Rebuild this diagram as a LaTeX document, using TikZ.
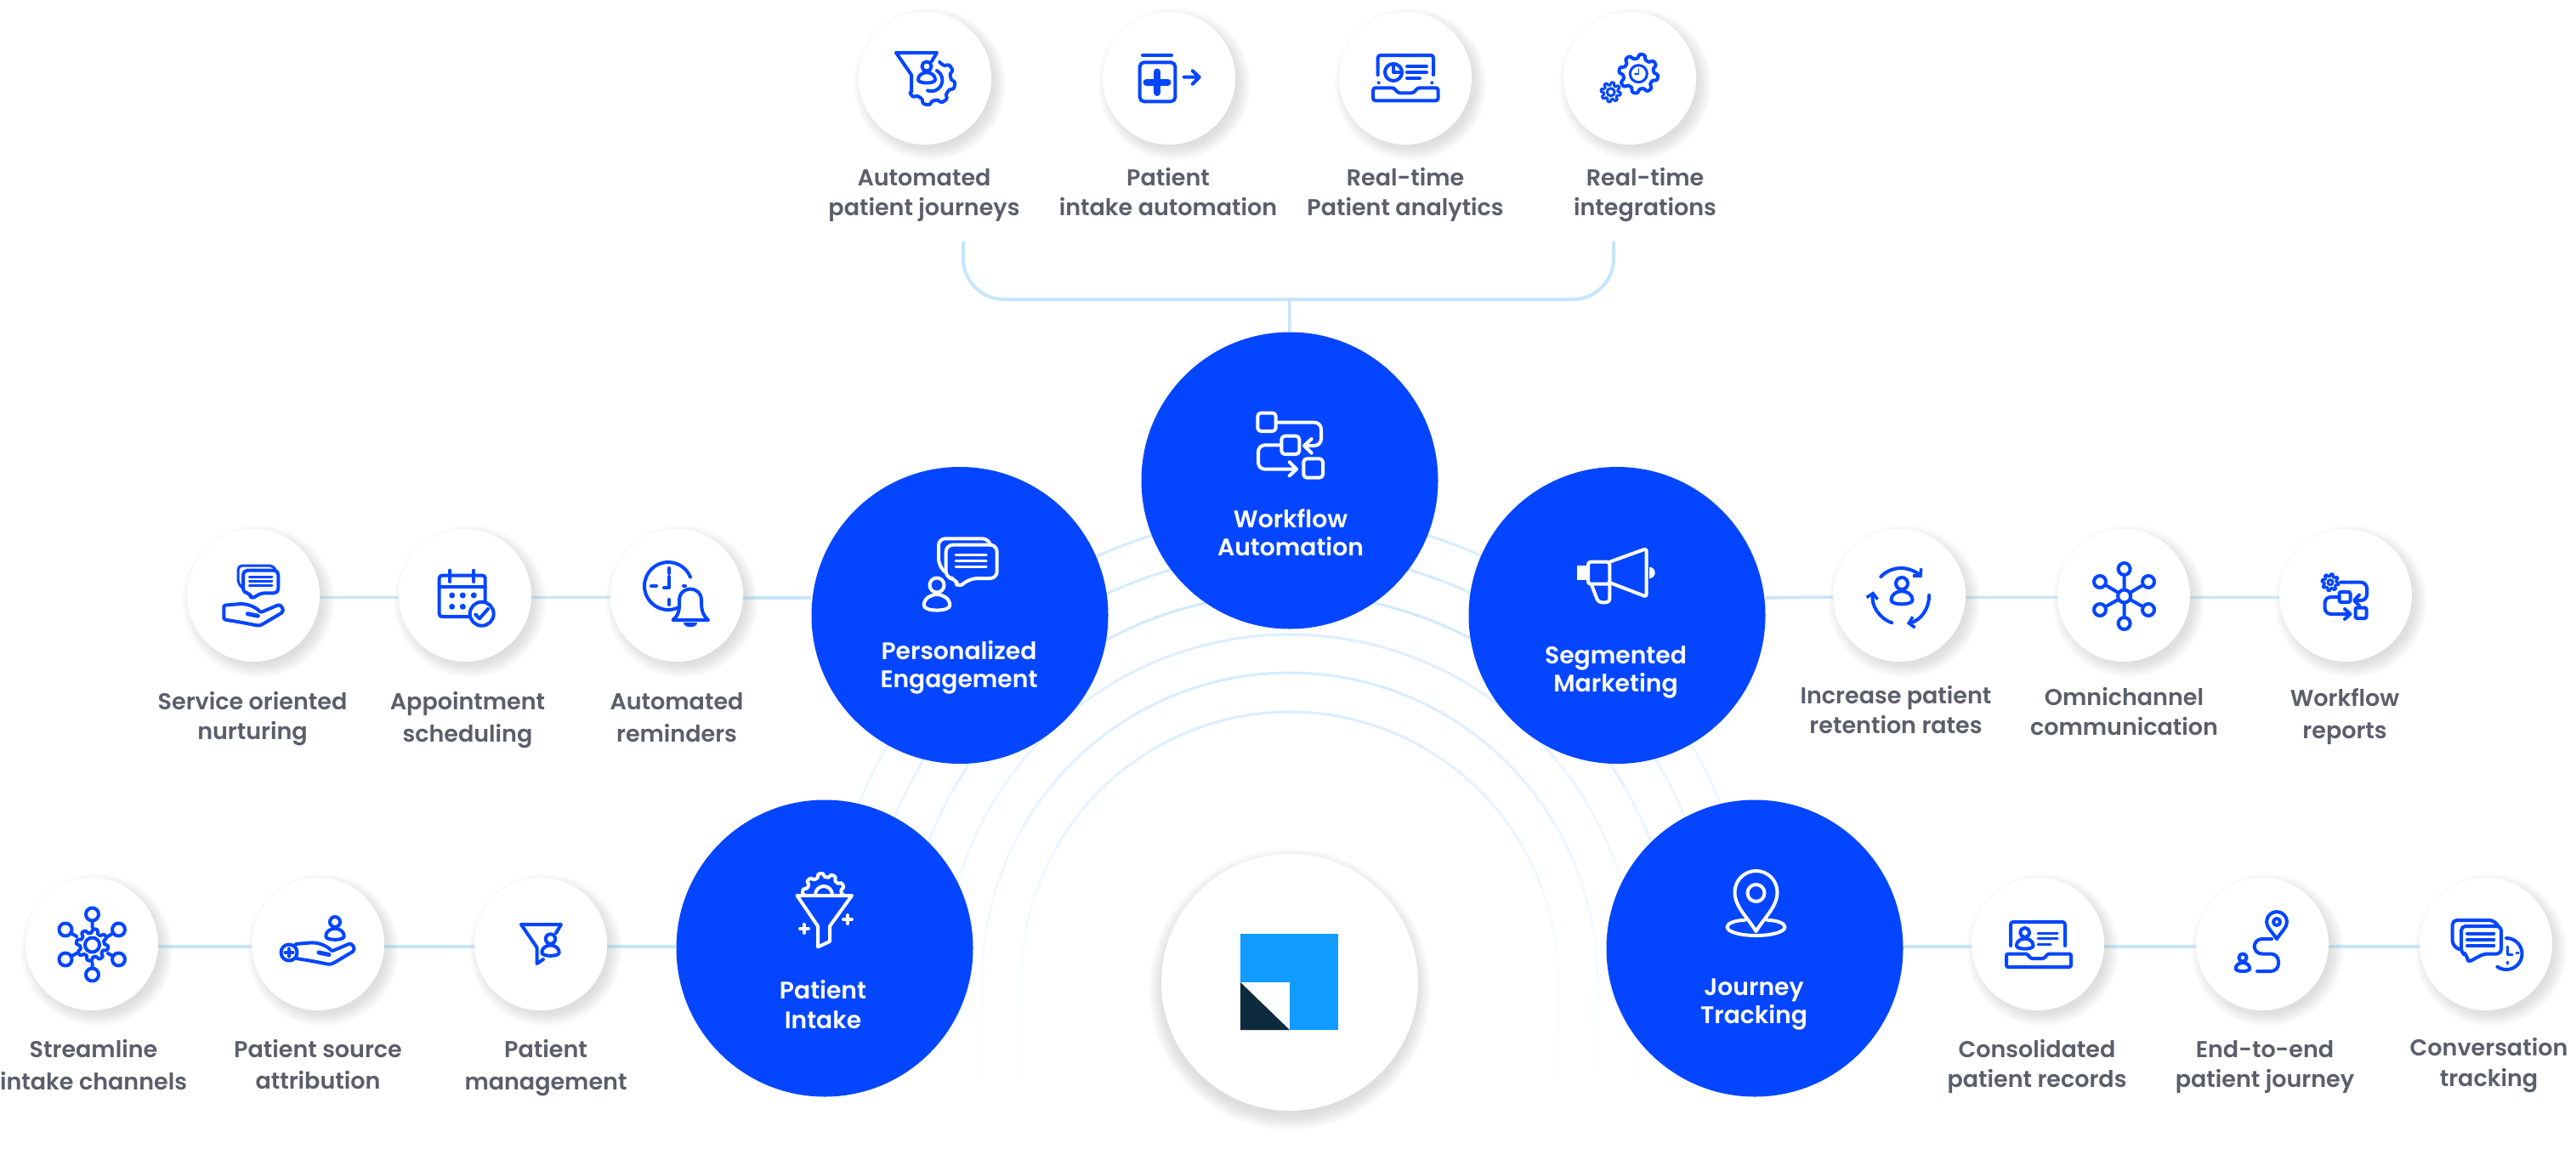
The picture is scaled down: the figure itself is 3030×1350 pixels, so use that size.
\documentclass[tikz,border=0pt]{standalone}
\usepackage{fontspec}
\usetikzlibrary{backgrounds,arrows.meta,calc}
\newfontfamily\popm{Poppins SemiBold}
\definecolor{iconblue}{HTML}{0446FF}
\definecolor{mainblue}{HTML}{0446FF}
\definecolor{linkblue}{HTML}{C6E5FD}
\definecolor{arcblue}{HTML}{CDE8FF}
\definecolor{graytext}{HTML}{5A5F6A}
\definecolor{logoblue}{HTML}{0F9BFF}
\definecolor{logodark}{HTML}{0E2A3F}
\tikzset{
  x=1pt,y=-1pt,
  subnode/.style={circle,fill=white,inner sep=0pt,minimum size=156pt},
  mainnode/.style={circle,fill=mainblue,inner sep=0pt,minimum size=349pt},
  logonode/.style={circle,fill=white,inner sep=0pt,minimum size=302pt},
  sublabel/.style={align=center,inner sep=0pt,text=graytext,font=\popm\fontsize{27}{35}\selectfont},
  mainlabel/.style={align=center,inner sep=0pt,text=white,font=\popm\fontsize{28.2}{33}\selectfont},
  link/.style={draw=linkblue,line width=3.5pt},
  ic/.style={draw=iconblue,line width=4pt,line cap=round,line join=round},
  icthin/.style={draw=iconblue,line width=3pt,line cap=round,line join=round},
  ichair/.style={draw=iconblue,line width=1.6pt,line cap=round,line join=round},
  icw/.style={draw=white,line width=4pt,line cap=round,line join=round},
  iwthin/.style={draw=white,line width=3pt,line cap=round,line join=round},
  barb/.style={-{Straight Barb[length=6pt,width=13pt,line width=3.6pt]}},
}
% person: head centre (x,y), head radius s
\newcommand\Ipers[4]{\begin{scope}[shift={(#2,#3)},scale=#4]
  \draw[#1] (0,0) circle[radius=1];
  \draw[#1] (-1.8,2.8) .. controls (-1.8,1.8) and (-.8,1.3) .. (0,1.3) .. controls (.8,1.3) and (1.8,1.8) .. (1.8,2.8) .. controls (1.8,3.7) and (-1.8,3.7) .. cycle;
\end{scope}}
% gear: style, x, y, R, teeth, amplitude, from, to
\newcommand\Igear[8]{\draw[#1,variable=\t,domain=#7:#8,samples=121]
  plot ({#2+(#4+#6*tanh(2.2*sin(#5*\t)))*cos(\t)},{#3+(#4+#6*tanh(2.2*sin(#5*\t)))*sin(\t)});}
% open hand: local origin at upper wrist
\newcommand\Ihand[3]{\begin{scope}[shift={(#1,#2)},scale=#3]
  \draw[ic,rounded corners=1.5pt] (0,0) -- (0,16.7) -- (20,20) -- (38,23.5) .. controls (41,24) and (43,23.5) .. (46,22) -- (67,9.5) .. controls (72,6) and (67,-2) .. (62,.5) -- (43,8.5) .. controls (40,4) and (30,-2) .. (18,-1.5) -- cycle;
  \draw[iconblue,line width=5pt,line cap=round] (28,10) -- (40,12.5);
\end{scope}}
\newcommand\Ilines[5]{\draw[#1] (#2,#4) -- (#3,#4) foreach \yy in {#5} {(#2,\yy) -- (#3,\yy)};}
\newcommand\Ilab[6]{\node[sublabel] (#1) at (#2,#3) {\strut #4\\[#6pt]\strut #5};}
\newcommand\Imain[5]{\node[mainlabel] (#1) at (#2,#3) {\strut #4\\\strut #5};}
\newcommand\Ishadow[5]{\foreach \k in {0,...,#5} {\fill[#4!70!white,opacity=.014] (#1,#2) circle[radius=#3+#5-\k];}}
\begin{document}
\begin{tikzpicture}
\useasboundingbox (0,0) rectangle (3030,1350);
% ---- nodes
\node[subnode] (t1) at (1088,92) {};
\node[subnode] (t2) at (1375,92) {};
\node[subnode] (t3) at (1653,92) {};
\node[subnode] (t4) at (1917,92) {};
\node[subnode] (l1) at (298,700) {};
\node[subnode] (l2) at (547,700) {};
\node[subnode] (l3) at (796,700) {};
\node[subnode] (b1) at (108,1110) {};
\node[subnode] (b2) at (374,1110) {};
\node[subnode] (b3) at (636,1110) {};
\node[subnode] (r1) at (2234,700) {};
\node[subnode] (r2) at (2498,700) {};
\node[subnode] (r3) at (2759,700) {};
\node[subnode] (q1) at (2397,1110) {};
\node[subnode] (q2) at (2661,1110) {};
\node[subnode] (q3) at (2924,1110) {};
\node[mainnode] (wf) at (1517,565) {};
\node[mainnode] (pe) at (1129,723.5) {};
\node[mainnode] (sm) at (1902,723.5) {};
\node[mainnode] (pi) at (970,1115) {};
\node[mainnode] (jt) at (2064,1115) {};
\node[logonode] (logo) at (1517,1155) {};
\coordinate (brl) at (1133,284);
\coordinate (brr) at (1898,284);
\coordinate (brm) at (1516.5,352);
% ---- background: page, arcs, connectors, shadows
\begin{pgfonlayer}{background}
\fill[white] (0,0) rectangle (3030,1350);
\foreach \r/\f in {316/.75,362/.85,407/.7,455/1,503/.9,548/.9} {
  \foreach \a in {180,190,...,350} {
    \pgfmathsetmacro\v{\f*min(100,15+85*pow(abs(sin(\a+5)),1.3))}
    \draw[arcblue!\v!white,line width=3pt] (1517,1153)+({\a-.5}:\r) arc[start angle=\a-.5,end angle=\a+10.5,radius=\r];
  }
  \foreach \i/\v in {0/13,1/9,2/5,3/2} {
    \draw[arcblue!\v!white,line width=3pt] (1517-\r,1153+\i*29) -- (1517-\r,1153+29+\i*29);
    \draw[arcblue!\v!white,line width=3pt] (1517+\r,1153+\i*29) -- (1517+\r,1153+29+\i*29);
  }
}
\draw[link,line width=4pt,rounded corners=48pt] (brl) -- (brl|-brm) -- (brr|-brm) -- (brr);
\draw[link] (wf.north) -- (brm);
\foreach \a/\b in {l1/l2,l2/l3,r1/r2,r2/r3} \draw[link] ([yshift=-2.5pt]\a.east) -- ([yshift=-2.5pt]\b.west);
\foreach \a/\b in {b1/b2,b2/b3,q1/q2,q2/q3} \draw[link] ([yshift=-3pt]\a.east) -- ([yshift=-3pt]\b.west);
\draw[link] ([yshift=-3pt]l3.east) -- (pe.west |- 0,703);
\draw[link] ([yshift=-3pt]b3.east) -- (pi.west |- 0,1113);
\draw[link] (sm.east |- 0,703) -- ([yshift=-2pt]r1.west);
\draw[link] (jt.east |- 0,1113) -- ([yshift=-3pt]q1.west);
\foreach \x/\y in {1088/92,1375/92,1653/92,1917/92,298/700,547/700,796/700,108/1110,374/1110,636/1110,2234/700,2498/700,2759/700,2397/1110,2661/1110,2924/1110} {
  \Ishadow{\x+6}{\y+7}{66}{gray}{24}
}
\Ishadow{1517}{1163}{138}{gray}{28}
\end{pgfonlayer}
% ---- logo
\fill[logoblue] (1459,1098) rectangle (1574,1211);
\fill[white] (1459,1155) rectangle (1517,1211);
\fill[logodark] (1459,1155) -- (1517,1211) -- (1459,1211) -- cycle;
% ---- labels
\Ilab{lt1}{1087}{229}{Automated}{patient journeys}{0}
\Ilab{lt2}{1374}{229}{Patient}{intake automation}{0}
\Ilab{lt3}{1653}{229}{Real-time}{Patient analytics}{0}
\Ilab{lt4}{1935}{229}{Real-time}{integrations}{0}
\Ilab{ll1}{297}{845}{Service oriented}{nurturing}{0}
\Ilab{ll2}{550}{846.5}{Appointment}{scheduling}{3}
\Ilab{ll3}{796}{846.5}{Automated}{reminders}{3}
\Ilab{lb1}{110}{1255}{Streamline}{intake channels}{3}
\Ilab{lb2}{374}{1254.5}{Patient source}{attribution}{2}
\Ilab{lb3}{642}{1255}{Patient}{management}{3}
\Ilab{lr1}{2230}{838}{Increase patient}{retention rates}{0}
\Ilab{lr2}{2498.5}{840}{Omnichannel}{communication}{0}
\Ilab{lr3}{2758}{842}{Workflow}{reports}{3}
\Ilab{lq1}{2396}{1253.5}{Consolidated}{patient records}{0}
\Ilab{lq2}{2664}{1253.5}{End-to-end}{patient journey}{0}
\Ilab{lq3}{2927.5}{1252.5}{Conversation}{tracking}{1}
\Imain{mwf}{1518}{630.5}{Workflow}{Automation}
\Imain{mpe}{1128}{785}{Personalized}{Engagement}
\Imain{msm}{1900.5}{790.5}{Segmented}{Marketing}
\node[mainlabel,font=\popm\fontsize{28.2}{35}\selectfont] (mpi) at (968,1184.5) {\strut Patient\\\strut Intake};
\Imain{mjt}{2063}{1180.5}{Journey}{Tracking}
% ---- icons: top row
% t1 funnel + gear + person
\draw[ic] (1054,62) -- (1102,62) -- (1096,72) (1054,62) -- (1072,88) -- (1072,108);
\Ipers{ic}{1090}{78}{5.6}
\Igear{ic}{1095}{95}{26}{8}{2.5}{-65}{150}
\draw[ic] (1102,83) arc[start angle=-60,end angle=110,radius=13];
% t2 bottle
\draw[ic] (1344,64.7) -- (1378,64.7);
\draw[ic,rounded corners=5pt] (1340.7,73.3) rectangle (1382.3,119.3);
\draw[iconblue,line width=8pt,line cap=round] (1348.5,96.7) -- (1373.5,96.7) (1361,84.5) -- (1361,109);
\draw[ic] (1392.7,90.7) -- (1410.7,90.7) (1402.7,83.3) -- (1410.7,90.7) -- (1402.7,98.7);
% t3 laptop
\draw[ic,rounded corners=3pt] (1620.7,88) -- (1620.7,65) -- (1686,65) -- (1686,88);
\fill[iconblue] (1621.7,97.3) circle[radius=2] (1684.3,97.3) circle[radius=2];
\draw[ic,rounded corners=3pt] (1615,103.3) -- (1640,103.3) -- (1644,109.3) -- (1663,109.3) -- (1667,103.3) -- (1691.7,103.3) -- (1691.7,118.3) -- (1615,118.3) -- cycle;
\draw[ic] (1639,85) circle[radius=10];
\draw[ic] (1639,76) -- (1639,85) -- (1648,85);
\Ilines{ic}{1655}{1678}{78.3}{85}
\draw[ic] (1655,91.7) -- (1670,91.7);
% t4 gears
\Igear{ic}{1927.3}{86.7}{20.5}{8}{2.6}{0}{360}
\draw[icthin] (1927.3,86.7) circle[radius=10];
\draw[ichair] (1927.3,81) -- (1927.3,87) -- (1923,87);
\Igear{icthin}{1894.7}{108.3}{10}{8}{1.7}{0}{360}
\draw[icthin] (1894.7,108.3) circle[radius=4.5];
% ---- left row 1
% l1 service
\draw[ic,rounded corners=5pt] (286,670.7) -- (327.3,670.7) -- (327.3,697.3) -- (306.7,697.3) -- (295,705) -- (295,697.3) -- (286,697.3) -- cycle;
\draw[icthin,rounded corners=5pt] (285,691) -- (280,686) -- (280,665) -- (322,665) -- (324,670);
\Ilines{icthin}{293.3}{320}{678.3}{683.3,688.3}
\Ihand{263.3}{711.7}{1}
% l2 calendar
\draw[ic,rounded corners=3pt] (570.7,708) -- (570.7,676.7) -- (516.7,676.7) -- (516.7,725) -- (553,725);
\draw[ic] (516.7,690) -- (570.7,690) (529.3,670.7) -- (529.3,684) (557.3,670.7) -- (557.3,684);
\fill[iconblue] (531.7,700) circle[radius=3.5] (544.3,700) circle[radius=3.5] (557.3,700) circle[radius=3.5] (531.7,713.3) circle[radius=3.5] (544.3,713.3) circle[radius=3.5];
\draw[ic,fill=white] (566.7,721.7) circle[radius=14];
\draw[ic] (559.3,722.5) -- (564,727.3) -- (574,716);
% l3 clock + bell
\draw[ic] (786,661) arc[start angle=-90,end angle=-340,radius=28];
\draw[ic] (786,661) arc[start angle=-90,end angle=-22,radius=28];
\draw[ic] (787,668) -- (787,674) (766,689) -- (772,689) (787,705) -- (787,711) (804,689) -- (806,689);
\draw[ic] (787,678) -- (787,691) -- (781,691);
\draw[ic,fill=white] (791.5,729) .. controls (800,722) and (799,714) .. (799,706) .. controls (799,688) and (825,688) .. (825,706) .. controls (825,714) and (825,722) .. (833,729) -- cycle;
\fill[iconblue] (804,732) -- (820,732) .. controls (820,739) and (804,739) .. cycle;
% ---- left row 2
% b1 hub gear
\Igear{ic}{108.5}{1111}{16.5}{8}{2.4}{0}{360}
\draw[ic] (108.5,1111) circle[radius=8.5];
\foreach \x/\y/\xx/\yy in {108.5/1075/108.5/1090,77/1093/90/1101,77/1128/90/1121,108.5/1146/108.5/1132,139.5/1093/127/1101,139.5/1128/127/1121} {
  \draw[ic] (\x,\y) circle[radius=7.5];
  \draw[ic] (\xx,\yy) -- ($(\x,\y)!.55!(\xx,\yy)$);
}
% b2 hand with plus
\Ihand{347}{1110}{1}
\draw[ic,fill=white] (340,1120) circle[radius=9.5];
\draw[ic] (335.5,1120) -- (344.5,1120) (340,1115.5) -- (340,1124.5);
\Ipers{ic}{394}{1084}{6}
% b3 funnel
\draw[ic] (613,1087) -- (660,1087) -- (654,1097) (613,1087) -- (631.5,1114) -- (631.5,1133) -- (639,1128);
\Ipers{ic}{647.5}{1104}{5.7}
% ---- right row 1
% r1 retention
\Ipers{ic}{2237}{686}{7}
\draw[ic,barb] (2236,701)+(224:33) arc[start angle=224,end angle=318,radius=33];
\draw[ic,barb] (2236,701)+(358:33) arc[start angle=-2,end angle=78,radius=33];
\draw[ic,barb] (2236,701)+(109:33) arc[start angle=109,end angle=190,radius=33];
% r2 omnichannel
\foreach \x/\y in {2498.6/669,2498.6/733,2470/684,2527/684,2470/717,2527/717} {
  \draw[ic] (\x,\y) circle[radius=7];
  \draw[ic] ($(\x,\y)!.3!(2498.6,701)$) -- (2498.6,701);
}
\draw[ic,fill=white] (2498.6,701) circle[radius=7.5];
% r3 workflow + gear
\Igear{icthin}{2741}{684.7}{8.5}{8}{1.6}{0}{360}
\draw[icthin] (2741,684.7) circle[radius=3];
\draw[ic,rounded corners=7pt] (2753,684.7) -- (2784,684.7) -- (2784,706) -- (2770,706);
\draw[ic] (2775,699.5) -- (2769,706) -- (2775,712);
\draw[ic,rounded corners=2pt] (2751.5,696) rectangle (2764.5,708);
\draw[ic,rounded corners=7pt] (2751.5,702) -- (2734.6,702) -- (2734.6,722) -- (2764,722);
\draw[ic] (2758,716) -- (2764.4,722) -- (2758,728);
\draw[ic,rounded corners=2pt] (2770.5,714.5) rectangle (2783.5,727);
% ---- right row 2
% q1 records
\draw[ic,rounded corners=3pt] (2365,1112) -- (2365,1084) -- (2429,1084) -- (2429,1112);
\draw[ic,rounded corners=2pt] (2360,1121.5) -- (2385,1121.5) -- (2388,1127) -- (2405,1127) -- (2408,1121.5) -- (2436,1121.5) -- (2436,1137) -- (2360,1137) -- cycle;
\Ipers{ic}{2381.7}{1096.5}{5.5}
\Ilines{icthin}{2397}{2420}{1097.6}{1103.7}
\draw[icthin] (2397,1110) -- (2412,1110);
% q2 journey
\draw[ic] (2678,1104) .. controls (2672,1095) and (2666,1090) .. (2666,1084) arc[start angle=180,end angle=360,radius=12] .. controls (2690,1090) and (2684,1095) .. (2678,1104);
\draw[ic] (2678,1084) circle[radius=4];
\draw[ic,rounded corners=9pt] (2672,1104) -- (2651.6,1104) -- (2651.6,1121.5) -- (2680,1121.5) -- (2680,1142) -- (2655,1142);
\Ipers{ic}{2638}{1126}{4.6}
% q3 conversation
\draw[ic,rounded corners=5pt] (2895,1089) -- (2942,1089) -- (2942,1121.5) -- (2921.5,1121.5) -- (2902,1132) -- (2902,1121.5) -- (2895,1121.5) -- cycle;
\draw[ic,rounded corners=5pt] (2892,1116) -- (2884.7,1111) -- (2884.7,1082) -- (2933,1082) -- (2938,1088);
\Ilines{ic}{2902}{2933.3}{1097.6}{1104.8,1112}
\draw[ic] (2948,1103) arc[start angle=-90,end angle=125,radius=18.5];
\draw[icthin] (2949,1113) -- (2949,1122) -- (2955,1122) (2949,1131) -- (2949,1133) (2960,1120) -- (2962,1120);
% ---- main icons
% workflow
\draw[icw,rounded corners=4pt] (1479.3,485.5) rectangle (1500.7,507);
\draw[icw,rounded corners=8pt] (1500.7,496.7) -- (1554,496.7) -- (1554,524) -- (1536,524);
\draw[icw] (1542.7,516) -- (1534,524) -- (1542.7,532.7);
\draw[icw,rounded corners=4pt] (1507.3,512.7) rectangle (1528.3,534);
\draw[icw,rounded corners=8pt] (1507.3,523.3) -- (1480,523.3) -- (1480,551.7) -- (1524,551.7);
\draw[icw] (1516.7,543.3) -- (1525,551.7) -- (1516.7,559.3);
\draw[icw,rounded corners=4pt] (1533.3,539.3) rectangle (1556,561.7);
% personalized
\draw[icw,rounded corners=8pt] (1112.7,640.7) -- (1172.7,640.7) -- (1172.7,680) -- (1141.7,680) -- (1125.7,691.7) -- (1125,680) -- (1112.7,680) -- cycle;
\draw[icw,rounded corners=8pt] (1111,672) -- (1104,665) -- (1104,633.3) -- (1163.3,633.3) -- (1165,640);
\Ilines{iwthin}{1124}{1160}{652.7}{659.3,666.7}
\Ipers{icw}{1102}{688}{8.5}
% segmented
\draw[icw,rounded corners=3pt] (1893.3,660.7) -- (1936.7,645) -- (1936.7,701.7) -- (1893.3,685);
\draw[icw,rounded corners=3pt] (1893.3,660.7) -- (1868,660.7) -- (1868,686.7) -- (1893.3,686.7) -- cycle;
\fill[white] (1855.3,665) rectangle (1866,681.7);
\fill[white] (1940,666.7) arc[start angle=-90,end angle=90,radius=6.7] -- cycle;
\draw[icw,rounded corners=4pt] (1871.7,686.7) -- (1880,708.3) -- (1893.3,708.3) -- (1893.3,686.7);
% patient intake
\Igear{icw}{969}{1052}{23}{10}{2.2}{180}{360}
\draw[icw] (959,1052) arc[start angle=180,end angle=360,radius=10];
\draw[icw] (937.5,1053) -- (1002,1053) -- (976,1089) -- (976,1107) -- (962,1113.4) -- (962,1089) -- cycle;
\draw[icw] (941,1092) -- (951,1092) (946,1087) -- (946,1097) (992,1081) -- (1002,1081) (997,1076) -- (997,1086);
% journey
\draw[icw] (2065.5,1095) .. controls (2055,1078) and (2040.5,1066) .. (2040.5,1049) arc[start angle=180,end angle=360,radius=25] .. controls (2090.5,1066) and (2076,1078) .. (2065.5,1095);
\draw[icw] (2065.5,1050) circle[radius=10];
\draw[icw] (2052,1082) .. controls (2040,1082) and (2031.5,1086) .. (2031.5,1090) .. controls (2031.5,1096) and (2048,1100) .. (2065.5,1100) .. controls (2083,1100) and (2099.5,1096) .. (2099.5,1090) .. controls (2099.5,1086) and (2091,1082) .. (2079,1082);
\end{tikzpicture}
\end{document}
